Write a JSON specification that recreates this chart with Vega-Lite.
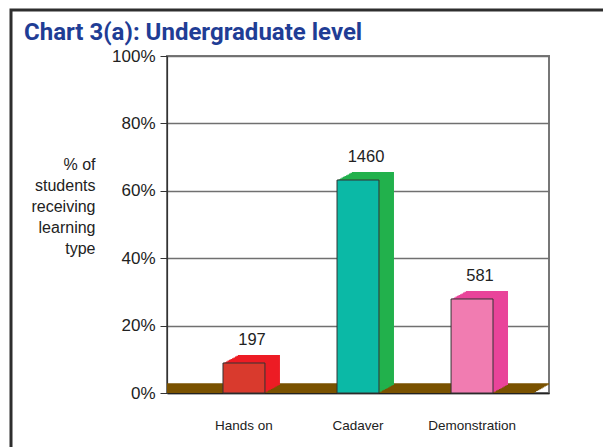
{
  "$schema": "https://vega.github.io/schema/vega-lite/v6.json",
  "autosize": {"type": "none"},
  "padding": {"left": 167, "top": 56, "right": 54, "bottom": 54},
  "width": 382,
  "height": 337,
  "background": "white",
  "title": {"text": "Chart 3(a): Undergraduate level", "anchor": "start", "frame": "group", "dx": -143, "offset": -55, "baseline": "alphabetic", "fontSize": 24, "font": "Roboto, sans-serif", "fontWeight": "bold", "color": "#1f3d95"},
  "config": {
    "view": {"stroke": "#777777", "strokeWidth": 2},
    "font": "Liberation Sans",
    "legend": {"strokeWidth": 3}
  },
  "data": {"values": [
    {"type": "Hands on", "pct": 0.089, "n": 197},
    {"type": "Cadaver", "pct": 0.632, "n": 1460},
    {"type": "Demonstration", "pct": 0.279, "n": 581}
  ]},
  "layer": [
    {"data": {"values": [{}]}, "mark": {"type": "rule", "color": "#7a5200", "strokeWidth": 1.6, "clip": true, "xOffset": -16, "yOffset": 0}, "encoding": {"y": {"datum": 0, "type": "quantitative", "scale": {"domain": [0, 1], "nice": false}}}},
    {"data": {"values": [{}]}, "mark": {"type": "rule", "color": "#7a5200", "strokeWidth": 1.6, "clip": true, "xOffset": -14.4, "yOffset": -0.9}, "encoding": {"y": {"datum": 0, "type": "quantitative"}}},
    {"data": {"values": [{}]}, "mark": {"type": "rule", "color": "#7a5200", "strokeWidth": 1.6, "clip": true, "xOffset": -12.8, "yOffset": -1.8}, "encoding": {"y": {"datum": 0, "type": "quantitative"}}},
    {"data": {"values": [{}]}, "mark": {"type": "rule", "color": "#7a5200", "strokeWidth": 1.6, "clip": true, "xOffset": -11.2, "yOffset": -2.7}, "encoding": {"y": {"datum": 0, "type": "quantitative"}}},
    {"data": {"values": [{}]}, "mark": {"type": "rule", "color": "#7a5200", "strokeWidth": 1.6, "clip": true, "xOffset": -9.6, "yOffset": -3.6}, "encoding": {"y": {"datum": 0, "type": "quantitative"}}},
    {"data": {"values": [{}]}, "mark": {"type": "rule", "color": "#7a5200", "strokeWidth": 1.6, "clip": true, "xOffset": -8, "yOffset": -4.5}, "encoding": {"y": {"datum": 0, "type": "quantitative"}}},
    {"data": {"values": [{}]}, "mark": {"type": "rule", "color": "#7a5200", "strokeWidth": 1.6, "clip": true, "xOffset": -6.4, "yOffset": -5.4}, "encoding": {"y": {"datum": 0, "type": "quantitative"}}},
    {"data": {"values": [{}]}, "mark": {"type": "rule", "color": "#7a5200", "strokeWidth": 1.6, "clip": true, "xOffset": -4.8, "yOffset": -6.3}, "encoding": {"y": {"datum": 0, "type": "quantitative"}}},
    {"data": {"values": [{}]}, "mark": {"type": "rule", "color": "#7a5200", "strokeWidth": 1.6, "clip": true, "xOffset": -3.2, "yOffset": -7.2}, "encoding": {"y": {"datum": 0, "type": "quantitative"}}},
    {"data": {"values": [{}]}, "mark": {"type": "rule", "color": "#7a5200", "strokeWidth": 1.6, "clip": true, "xOffset": -1.6, "yOffset": -8.1}, "encoding": {"y": {"datum": 0, "type": "quantitative"}}},
    {"data": {"values": [{}]}, "mark": {"type": "rule", "color": "#7a5200", "strokeWidth": 1.6, "clip": true, "xOffset": 0, "yOffset": -9}, "encoding": {"y": {"datum": 0, "type": "quantitative"}}},
    {"data": {"values": [{}]}, "mark": {"type": "point", "opacity": 0},
     "encoding": {"shape": {"datum": "frame", "type": "nominal", "legend": {"title": null, "orient": "none", "legendX": -156, "legendY": -46, "padding": 330, "strokeColor": "#2e2e2e", "symbolOpacity": 0, "labelOpacity": 0, "fillColor": null}}}},
    {
      "encoding": {
        "x": {"field": "type", "type": "nominal", "sort": ["Hands on", "Cadaver", "Demonstration"],
              "scale": {"paddingInner": 0, "paddingOuter": 0.175},
              "axis": {"title": null, "labelAngle": 0, "ticks": false, "labelFontSize": 13.5, "labelPadding": 25, "labelBaseline": "top", "domainColor": "#222222", "domainWidth": 1.5, "labelColor": "#222222", "labelFont": "Liberation Sans"}},
        "y": {"field": "pct", "type": "quantitative", "scale": {"domain": [0, 1], "nice": false},
              "axis": {"values": [0, 0.2, 0.4, 0.6, 0.8, 1], "format": ".0%", "grid": true, "gridColor": "#707070", "gridWidth": 1.5, "domainColor": "#333333", "domainWidth": 1.2, "tickColor": "#333333", "tickSize": 7, "labelFontSize": 17, "labelColor": "#222222", "labelPadding": 5, "labelFont": "Liberation Sans",
                       "title": ["% of", "students", "receiving", "learning", "type"], "titleAngle": 0, "titleAlign": "right", "titleBaseline": "middle", "titleX": -72, "titleY": 108, "titleFontSize": 16, "titleFontWeight": "normal", "titleLineHeight": 21, "titleColor": "#222222", "titleFont": "Liberation Sans"}},
        "color": {"field": "type", "type": "nominal", "legend": null, "scale": {"domain": ["Hands on", "Cadaver", "Demonstration"], "range": ["#ed1c24", "#22b14c", "#e9449a"]}}
      },
      "layer": [
        {"mark": {"type": "bar", "width": {"band": 0.368}, "xOffset": 1.5, "yOffset": -0.8}},
        {"mark": {"type": "bar", "width": {"band": 0.368}, "xOffset": 3, "yOffset": -1.6}},
        {"mark": {"type": "bar", "width": {"band": 0.368}, "xOffset": 4.5, "yOffset": -2.4}},
        {"mark": {"type": "bar", "width": {"band": 0.368}, "xOffset": 6, "yOffset": -3.2}},
        {"mark": {"type": "bar", "width": {"band": 0.368}, "xOffset": 7.5, "yOffset": -4}},
        {"mark": {"type": "bar", "width": {"band": 0.368}, "xOffset": 9, "yOffset": -4.8}},
        {"mark": {"type": "bar", "width": {"band": 0.368}, "xOffset": 10.5, "yOffset": -5.6}},
        {"mark": {"type": "bar", "width": {"band": 0.368}, "xOffset": 12, "yOffset": -6.4}},
        {"mark": {"type": "bar", "width": {"band": 0.368}, "xOffset": 13.5, "yOffset": -7.2}},
        {"mark": {"type": "bar", "width": {"band": 0.368}, "xOffset": 15, "yOffset": -8}},
        {"mark": {"type": "bar", "width": {"band": 0.368}, "stroke": "#333333", "strokeWidth": 1},
         "encoding": {"color": {"field": "type", "type": "nominal", "legend": null, "scale": {"domain": ["Hands on", "Cadaver", "Demonstration"], "range": ["#d93a2d", "#0bb9a6", "#f17cb1"]}}}},
        {"mark": {"type": "text", "baseline": "alphabetic", "dx": 8, "dy": -18, "fontSize": 16.5, "color": "#222222", "font": "Liberation Sans"},
         "encoding": {"text": {"field": "n", "type": "quantitative"}, "color": {"value": "#222222"}}}
      ],
      "resolve": {"scale": {"color": "independent"}}
    }
  ]
}
